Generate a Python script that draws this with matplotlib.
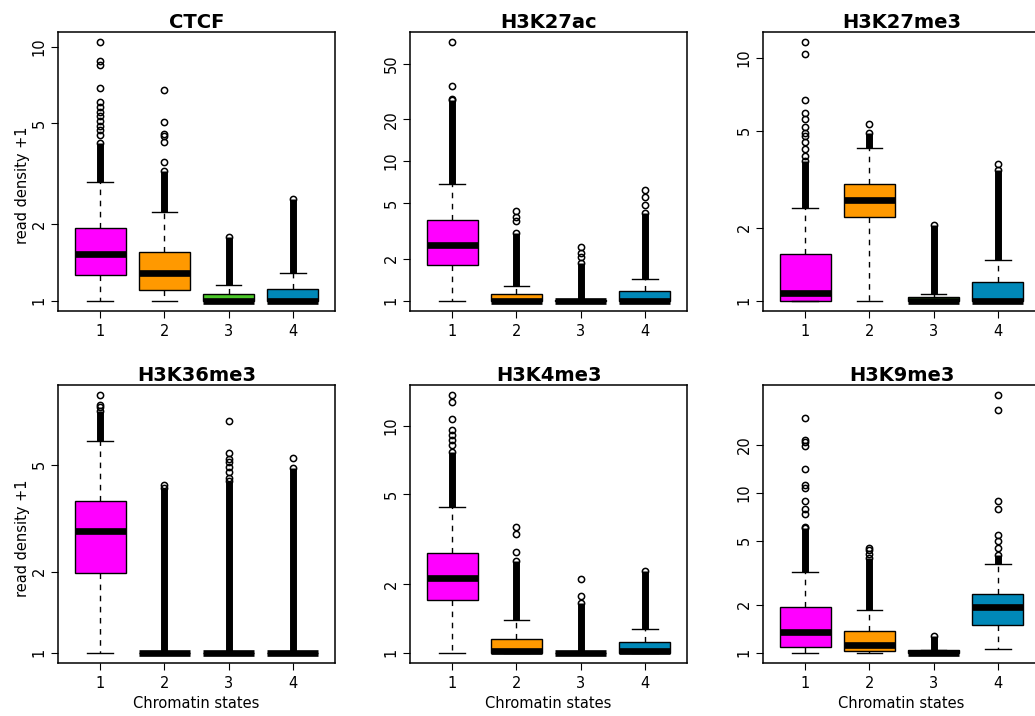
import numpy as np
import matplotlib.pyplot as plt
from matplotlib.ticker import NullLocator

# chromatin-state boxplots of read density (+1), log scale
panels = ["CTCF", "H3K27ac", "H3K27me3", "H3K36me3", "H3K4me3", "H3K9me3"]
states = [1, 2, 3, 4]
colors = ["#FF00FF", "#FF9900", "#4CC82A", "#0088B8"]

yticks = [
    [1, 2, 5, 10],
    [1, 2, 5, 10, 20, 50],
    [1, 2, 5, 10],
    [1, 2, 5],
    [1, 2, 5, 10],
    [1, 2, 5, 10, 20],
]

q1 = [
    [1.265, 1.098, 1.0, 1.0],
    [1.80, 1.0, 1.0, 1.0],
    [1.0, 2.20, 1.0, 1.0],
    [1.98, 1.0, 1.0, 1.0],
    [1.70, 1.0, 1.0, 1.0],
    [1.09, 1.02, 1.0, 1.49],
]
med = [
    [1.53, 1.29, 1.0, 1.0],
    [2.49, 1.0, 1.0, 1.0],
    [1.076, 2.60, 1.0, 1.0],
    [2.84, 1.0, 1.0, 1.0],
    [2.14, 1.02, 1.0, 1.02],
    [1.35, 1.115, 1.0, 1.94],
]
q3 = [
    [1.93, 1.555, 1.059, 1.115],
    [3.81, 1.11, 1.01, 1.18],
    [1.56, 3.03, 1.032, 1.19],
    [3.65, 1.0, 1.0, 1.0],
    [2.76, 1.15, 1.0, 1.11],
    [1.93, 1.357, 1.044, 2.34],
]
whislo = [
    [1.0, 1.0, 1.0, 1.0],
    [1.0, 1.0, 1.0, 1.0],
    [1.0, 1.0, 1.0, 1.0],
    [1.0, 1.0, 1.0, 1.0],
    [1.0, 1.0, 1.0, 1.0],
    [1.0, 1.0, 1.0, 1.05],
]
whishi = [
    [2.93, 2.23, 1.149, 1.285],
    [6.86, 1.27, 1.0, 1.43],
    [2.41, 4.25, 1.069, 1.47],
    [6.14, 1.0, 1.0, 1.0],
    [4.36, 1.39, 1.0, 1.27],
    [3.19, 1.86, 1.044, 3.6],
]
# upper end of the solid run of outliers above each whisker
dense_top = [
    [4.18, 3.23, 1.78, 2.51],
    [27.6, 3.06, 1.86, 4.25],
    [3.74, 4.9, 2.05, 3.46],
    [7.89, 4.1, 4.33, 4.86],
    [7.68, 2.53, 1.66, 2.28],
    [6.0, 3.9, 1.28, 4.09],
]

# separate outliers above the solid run
ctcf_out = [[4.5, 4.68, 4.86, 5.08, 5.32, 5.51, 5.79, 6.04, 6.87, 8.5, 8.81, 10.4],
            [3.5, 4.2, 4.43, 4.55, 5.03, 6.77], [], []]
h3k27ac_out = [[28.0, 34.4, 71.1], [3.74, 4.0, 4.42], [2.05, 2.2, 2.43], [4.88, 5.54, 6.18]]
h3k27me3_out = [[3.92, 4.21, 4.48, 4.78, 4.9, 5.18, 5.59, 5.92, 6.71, 10.38, 11.56],
                [5.33], [], [3.64]]
h3k36me3_out = [[8.17, 8.35, 9.05], [4.2], [4.45, 4.68, 4.9, 5.13, 5.25, 5.53, 7.29], [5.3]]
h3k4me3_out = [[8.22, 8.65, 9.1, 9.57, 10.7, 12.7, 13.6], [2.78, 3.33, 3.57], [1.78, 2.11], []]
h3k9me3_out = [[6.1, 7.34, 7.91, 8.92, 10.65, 11.17, 14.0, 19.5, 20.6, 21.3, 29.3],
               [4.13, 4.4, 4.54], [], [4.5, 5.02, 5.45, 7.88, 8.92, 32.7, 40.6]]
outliers = [ctcf_out, h3k27ac_out, h3k27me3_out, h3k36me3_out, h3k4me3_out, h3k9me3_out]

W, H = 1035, 716
fig = plt.figure(figsize=(W / 100, H / 100), dpi=100)
col_left = [58, 410, 763]
rows = [(32, 311), (385, 663)]

for i, name in enumerate(panels):
    r, c = divmod(i, 3)
    top, bot = rows[r]
    ax = fig.add_axes([col_left[c] / W, (H - bot) / H, 277 / W, (bot - top) / H])
    ax.set_yscale("log")

    stats = []
    for j in range(4):
        stats.append(dict(med=med[i][j], q1=q1[i][j], q3=q3[i][j],
                          whislo=whislo[i][j], whishi=whishi[i][j],
                          fliers=outliers[i][j] + [dense_top[i][j]]))

    bp = ax.bxp(stats, positions=states, widths=0.8, capwidths=0.4,
                patch_artist=True, manage_ticks=False,
                boxprops=dict(edgecolor="black", linewidth=1.0),
                medianprops=dict(color="black", linewidth=4.8, solid_capstyle="butt"),
                whiskerprops=dict(color="black", linewidth=1.0, linestyle=(0, (4, 4))),
                capprops=dict(color="black", linewidth=1.0),
                flierprops=dict(marker="o", markerfacecolor="none",
                                markeredgecolor="black", markersize=4.5,
                                markeredgewidth=1.1))
    for patch, col in zip(bp["boxes"], colors):
        patch.set_facecolor(col)

    ax.vlines(states, whishi[i], dense_top[i], colors="black", linewidth=5, zorder=2.5)

    allv = whislo[i] + dense_top[i] + sum(outliers[i], [])
    llo, lhi = np.log10(min(allv)), np.log10(max(allv))
    pad = 0.04 * (lhi - llo)
    ax.set_ylim(10 ** (llo - pad), 10 ** (lhi + pad))
    ax.set_xlim(0.5 - 0.16, 4.5 + 0.16)

    ax.set_yticks(yticks[i])
    ax.set_yticklabels([str(t) for t in yticks[i]])
    ax.yaxis.set_minor_locator(NullLocator())
    ax.set_xticks(states)
    ax.set_xticklabels([str(s) for s in states])
    for lbl in ax.get_yticklabels():
        lbl.set_rotation(90)
        lbl.set_va("center")

    ax.tick_params(direction="out", length=5, width=0.8, labelsize=10.5, pad=3)
    ax.tick_params(axis="x", pad=4)
    for sp in ax.spines.values():
        sp.set_linewidth(1.1)

    ax.set_title(name, fontsize=14, fontweight="bold", pad=2)
    if c == 0:
        ax.set_ylabel("read density +1", fontsize=10.5)
        ax.yaxis.set_label_coords(-0.101, 0.45)
    if r == 1:
        ax.set_xlabel("Chromatin states", fontsize=10.5)
        ax.xaxis.set_label_coords(0.5, -0.118)

fig.savefig("out.png", dpi=100)
